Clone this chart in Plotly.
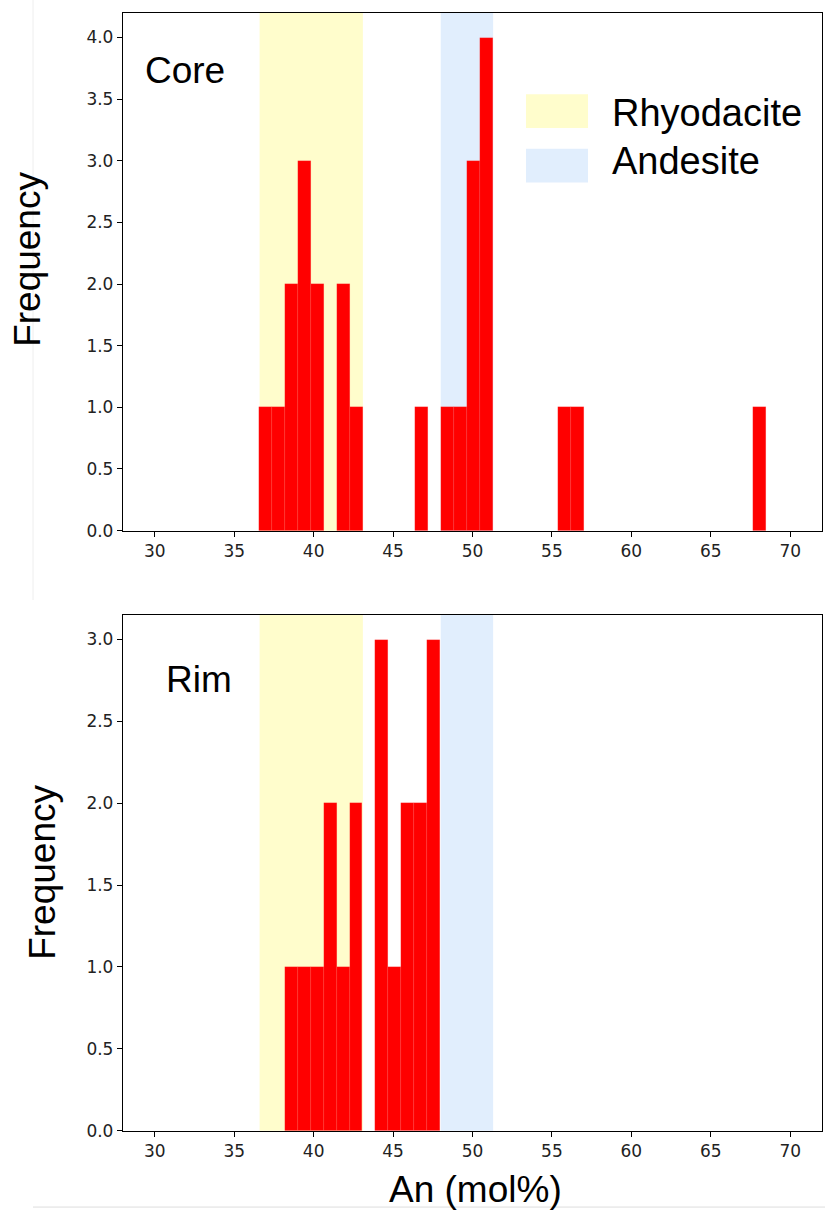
import plotly.graph_objects as go

# ---- data ----
core_bin_left = [36.55, 37.37, 38.19, 39.00, 39.82, 41.46, 42.28, 46.37, 48.00, 48.82, 49.64, 50.46, 55.36, 56.18, 67.63]
core_counts = [1, 1, 2, 3, 2, 2, 1, 1, 1, 1, 3, 4, 1, 1, 1]
core_bin_width = 0.818

rim_bin_left = [38.19, 39.00, 39.82, 40.63, 41.45, 42.26, 43.89, 44.71, 45.52, 46.34, 47.15]
rim_counts = [1, 1, 1, 2, 1, 2, 3, 1, 2, 2, 3]
rim_bin_width = 0.815

rhyodacite_range = [36.6, 43.1]
andesite_range = [48.0, 51.3]

x_ticks = [30, 35, 40, 45, 50, 55, 60, 65, 70]
core_y_ticks = [0.0, 0.5, 1.0, 1.5, 2.0, 2.5, 3.0, 3.5, 4.0]
rim_y_ticks = [0.0, 0.5, 1.0, 1.5, 2.0, 2.5, 3.0]

W, H = 825, 1224
YELLOW = "#FFFDCC"
BLUE = "#E1EEFD"
RED = "#FF0000"
ARIAL = "Liberation Sans, Arial, sans-serif"
DEJAVU = "DejaVu Sans, sans-serif"


def px_x(p):
    return p / W


def px_y(p):
    return 1 - p / H


fig = go.Figure()

bar_marker = dict(color=RED, line=dict(color="rgba(255,120,120,0.35)", width=0.4))
fig.add_trace(go.Bar(x=core_bin_left, y=core_counts, width=core_bin_width, offset=0,
                     marker=bar_marker, xaxis="x", yaxis="y", showlegend=False))
fig.add_trace(go.Bar(x=rim_bin_left, y=rim_counts, width=rim_bin_width, offset=0,
                     marker=bar_marker, xaxis="x2", yaxis="y2", showlegend=False))

shapes = []
for xr, yr in (("x", "y domain"), ("x2", "y2 domain")):
    shapes.append(dict(type="rect", xref=xr, yref=yr, x0=rhyodacite_range[0], x1=rhyodacite_range[1],
                       y0=0, y1=1, fillcolor=YELLOW, line=dict(width=0), layer="below"))
    shapes.append(dict(type="rect", xref=xr, yref=yr, x0=andesite_range[0], x1=andesite_range[1],
                       y0=0, y1=1, fillcolor=BLUE, line=dict(width=0), layer="below"))

# legend patches (manual)
shapes.append(dict(type="rect", xref="paper", yref="paper", x0=px_x(526), x1=px_x(588),
                   y0=px_y(129), y1=px_y(95), fillcolor=YELLOW, line=dict(width=0)))
shapes.append(dict(type="rect", xref="paper", yref="paper", x0=px_x(526), x1=px_x(588),
                   y0=px_y(184), y1=px_y(150), fillcolor=BLUE, line=dict(width=0)))

# faint page-composition lines
shapes.append(dict(type="line", xref="paper", yref="paper", x0=px_x(33), x1=px_x(33),
                   y0=px_y(605), y1=1, line=dict(color="#EEEEEE", width=1)))
shapes.append(dict(type="line", xref="paper", yref="paper", x0=px_x(33), x1=1,
                   y0=px_y(1217), y1=px_y(1217), line=dict(color="#DDDDDD", width=1)))

annotations = [
    dict(text="Core", xref="paper", yref="paper", x=px_x(143), y=px_y(71), xanchor="left", yanchor="middle",
         showarrow=False, font=dict(family=ARIAL, size=37, color="black")),
    dict(text="Rim", xref="paper", yref="paper", x=px_x(164), y=px_y(685), xanchor="left", yanchor="middle",
         showarrow=False, font=dict(family=ARIAL, size=37, color="black")),
    dict(text="Rhyodacite", xref="paper", yref="paper", x=px_x(610), y=px_y(114), xanchor="left", yanchor="middle",
         showarrow=False, font=dict(family=ARIAL, size=38, color="black")),
    dict(text="Andesite", xref="paper", yref="paper", x=px_x(610), y=px_y(162), xanchor="left", yanchor="middle",
         showarrow=False, font=dict(family=ARIAL, size=38, color="black")),
    dict(text="Frequency", xref="paper", yref="paper", x=px_x(28), y=px_y(262), xanchor="center", yanchor="middle",
         textangle=-90, showarrow=False, font=dict(family=ARIAL, size=37, color="black")),
    dict(text="Frequency", xref="paper", yref="paper", x=px_x(43), y=px_y(880), xanchor="center", yanchor="middle",
         textangle=-90, showarrow=False, font=dict(family=ARIAL, size=37, color="black")),
    dict(text="An (mol%)", xref="paper", yref="paper", x=px_x(475), y=px_y(1199), xanchor="center", yanchor="middle",
         showarrow=False, font=dict(family=ARIAL, size=37, color="black")),
]

axis_common = dict(showline=True, mirror=True, linecolor="black", linewidth=1.3,
                   ticks="outside", ticklen=5, tickwidth=1.2, tickcolor="black",
                   showgrid=False, zeroline=False,
                   tickfont=dict(family=DEJAVU, size=17, color="#222222"))

fig.update_layout(
    width=W, height=H,
    margin=dict(l=0, r=0, t=0, b=0),
    paper_bgcolor="white", plot_bgcolor="rgba(0,0,0,0)",
    bargap=0, showlegend=False,
    shapes=shapes, annotations=annotations,
    xaxis=dict(domain=[px_x(123), px_x(822)], anchor="y", range=[28, 72],
               tickvals=x_ticks, **axis_common),
    yaxis=dict(domain=[px_y(535), px_y(13)], anchor="x", range=[0, 4.2],
               tickvals=core_y_ticks, ticktext=[f"{v:.1f}" for v in core_y_ticks], **axis_common),
    xaxis2=dict(domain=[px_x(123), px_x(822)], anchor="y2", range=[28, 72],
                tickvals=x_ticks, **axis_common),
    yaxis2=dict(domain=[px_y(1140), px_y(620)], anchor="x2", range=[0, 3.15],
                tickvals=rim_y_ticks, ticktext=[f"{v:.1f}" for v in rim_y_ticks], **axis_common),
)

fig.write_html("out.html")
